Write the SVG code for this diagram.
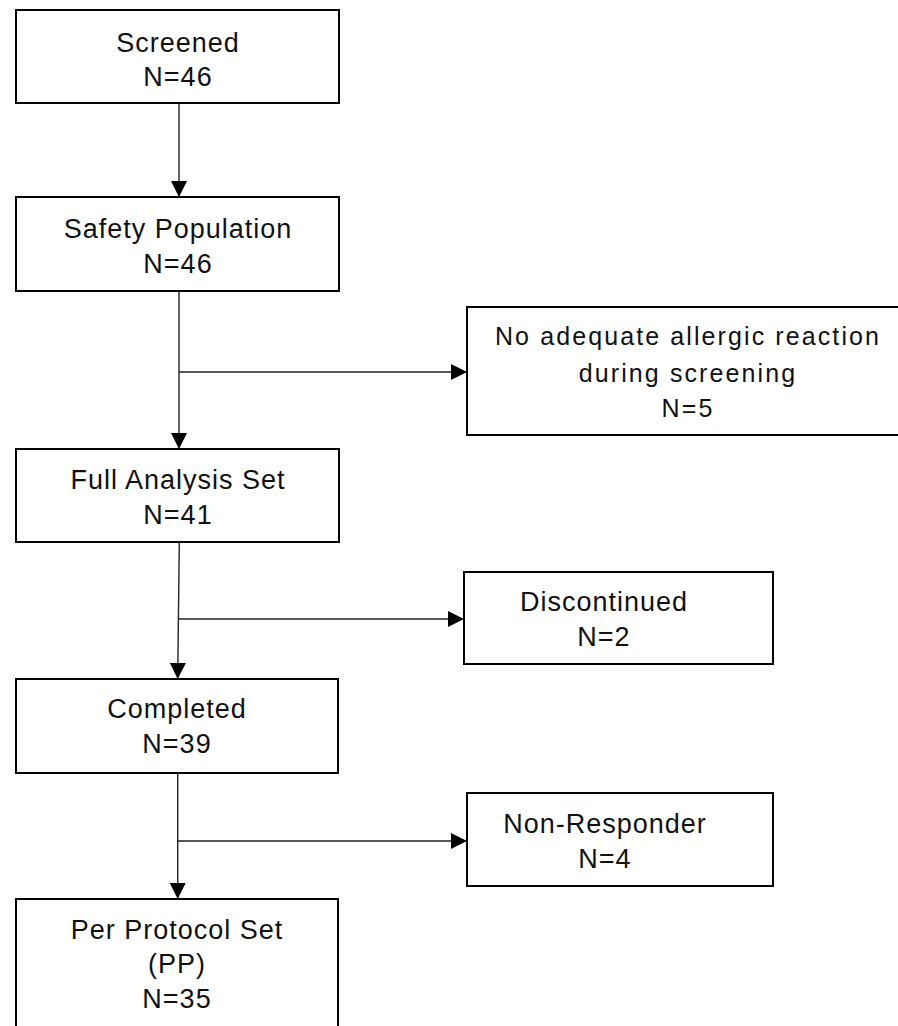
<svg xmlns="http://www.w3.org/2000/svg" width="898" height="1026" viewBox="0 0 898 1026">
<style>
  .box { fill: #ffffff; stroke: #000000; stroke-width: 2; }
  .t { font-family: "Liberation Sans", Arial, sans-serif; font-size: 27px; letter-spacing: 1px; fill: #111111; text-anchor: middle; }
  .tn { font-family: "Liberation Sans", Arial, sans-serif; font-size: 25px; letter-spacing: 2.1px; fill: #111111; text-anchor: middle; }
  .c { fill: none; stroke: #222222; stroke-width: 1.4; }
</style>
<defs>
  <marker id="ah" markerWidth="16" markerHeight="16" viewBox="0 0 16 16" refX="16" refY="8" orient="auto" markerUnits="userSpaceOnUse">
    <path d="M0,0 L16,8 L0,16 Z" fill="#000000"/>
  </marker>
</defs>
<rect x="0" y="0" width="898" height="1026" fill="#ffffff"/>
<g id="connectors">
  <line class="c" x1="179" y1="103" x2="179" y2="197" marker-end="url(#ah)"/>
  <line class="c" x1="179" y1="291" x2="179" y2="449" marker-end="url(#ah)"/>
  <line class="c" x1="179" y1="372" x2="467" y2="372" marker-end="url(#ah)"/>
  <line class="c" x1="179.3" y1="542" x2="177.7" y2="679" marker-end="url(#ah)"/>
  <line class="c" x1="178.6" y1="619" x2="464" y2="619" marker-end="url(#ah)"/>
  <line class="c" x1="177.7" y1="773" x2="177.7" y2="899" marker-end="url(#ah)"/>
  <line class="c" x1="177.7" y1="841" x2="467" y2="841" marker-end="url(#ah)"/>
</g>
<g id="screened">
  <rect class="box" x="16" y="10" width="323" height="93"/>
  <text class="t" x="178" y="51.5">Screened</text>
  <text class="t" x="178" y="86">N=46</text>
</g>
<g id="safety">
  <rect class="box" x="16" y="197" width="323" height="94"/>
  <text class="t" x="178" y="238">Safety Population</text>
  <text class="t" x="178" y="272.5">N=46</text>
</g>
<g id="noadequate">
  <rect class="box" x="467" y="307" width="440" height="128"/>
  <text class="tn" x="688" y="345">No adequate allergic reaction</text>
  <text class="tn" x="688" y="381.5">during screening</text>
  <text class="tn" x="688" y="417">N=5</text>
</g>
<g id="fas">
  <rect class="box" x="16" y="449" width="323" height="93"/>
  <text class="t" x="178" y="489">Full Analysis Set</text>
  <text class="t" x="178" y="524">N=41</text>
</g>
<g id="discontinued">
  <rect class="box" x="464" y="572" width="309" height="92"/>
  <text class="t" x="604" y="611">Discontinued</text>
  <text class="t" x="604" y="646">N=2</text>
</g>
<g id="completed">
  <rect class="box" x="16" y="679" width="322" height="94"/>
  <text class="t" x="177" y="718">Completed</text>
  <text class="t" x="177" y="753">N=39</text>
</g>
<g id="nonresponder">
  <rect class="box" x="467" y="793" width="306" height="93"/>
  <text class="t" x="605" y="832.5">Non-Responder</text>
  <text class="t" x="605" y="868">N=4</text>
</g>
<g id="pp">
  <rect class="box" x="16" y="899" width="322" height="140"/>
  <text class="t" x="177" y="939">Per Protocol Set</text>
  <text class="t" x="177" y="973">(PP)</text>
  <text class="t" x="177" y="1008">N=35</text>
</g>
</svg>
